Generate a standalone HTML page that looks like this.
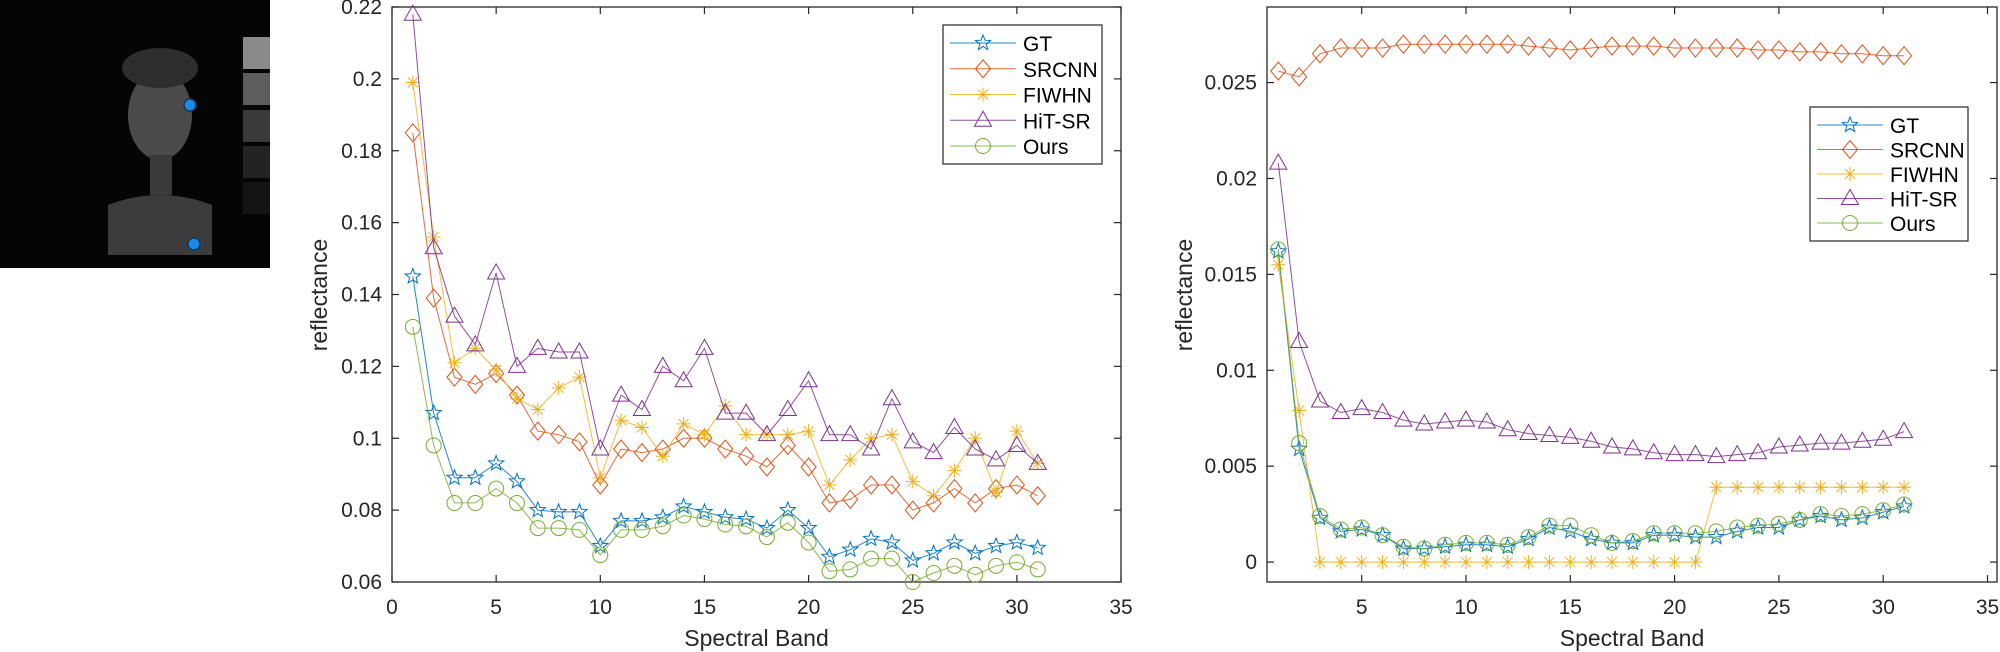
<!DOCTYPE html>
<html><head><meta charset="utf-8"><style>
html,body{margin:0;padding:0;background:#fff;}
svg{display:block;font-family:"Liberation Sans",Arial,sans-serif;}
</style></head><body>
<svg id="fig" width="2000" height="652" viewBox="0 0 2000 652" xmlns="http://www.w3.org/2000/svg">
  <g>
    <rect x="0" y="0" width="270" height="268" fill="#050505"/>
    <rect x="243" y="37" width="27" height="32" fill="#8a8a8a"/>
    <rect x="243" y="73" width="27" height="32" fill="#5e5e5e"/>
    <rect x="243" y="110" width="27" height="32" fill="#3a3a3a"/>
    <rect x="243" y="146" width="27" height="32" fill="#232323"/>
    <rect x="243" y="182" width="27" height="32" fill="#141414"/>
    <ellipse cx="160" cy="115" rx="32" ry="45" fill="#4a4a4a"/>
    <ellipse cx="160" cy="68" rx="38" ry="20" fill="#2e2e2e"/>
    <rect x="150" y="155" width="22" height="40" fill="#3a3a3a"/>
    <path d="M108 255 L108 205 Q160 185 212 205 L212 255 Z" fill="#3c3c3c"/>
    <circle cx="190" cy="105" r="6" fill="#1e88e5" stroke="#0a3a66" stroke-width="1.5"/>
    <circle cx="194" cy="244" r="6" fill="#1e88e5" stroke="#0a3a66" stroke-width="1.5"/>
  </g>
</svg>
<script>
const bands = [1,2,3,4,5,6,7,8,9,10,11,12,13,14,15,16,17,18,19,20,21,22,23,24,25,26,27,28,29,30,31];
const seriesNames = ["GT","SRCNN","FIWHN","HiT-SR","Ours"];
// chart 1 values
const c1GT = [0.145,0.107,0.089,0.089,0.093,0.088,0.080,0.0795,0.0795,0.070,0.077,0.077,0.078,0.081,0.0795,0.078,0.0775,0.075,0.080,0.075,0.067,0.069,0.072,0.071,0.066,0.068,0.071,0.068,0.070,0.071,0.0695];
const c1SRCNN = [0.185,0.139,0.117,0.115,0.118,0.112,0.102,0.101,0.099,0.087,0.097,0.096,0.097,0.100,0.100,0.097,0.095,0.092,0.098,0.092,0.082,0.083,0.087,0.087,0.080,0.082,0.086,0.082,0.086,0.087,0.084];
const c1FIWHN = [0.199,0.156,0.121,0.125,0.119,0.111,0.108,0.114,0.117,0.089,0.105,0.103,0.095,0.104,0.101,0.109,0.101,0.101,0.101,0.102,0.087,0.094,0.100,0.101,0.088,0.084,0.091,0.100,0.085,0.102,0.093];
const c1HiT = [0.218,0.153,0.134,0.126,0.146,0.120,0.125,0.124,0.124,0.097,0.112,0.108,0.120,0.116,0.125,0.107,0.107,0.101,0.108,0.116,0.101,0.101,0.097,0.111,0.099,0.096,0.103,0.097,0.094,0.098,0.093];
const c1Ours = [0.131,0.098,0.082,0.082,0.086,0.082,0.075,0.075,0.0745,0.0675,0.0745,0.0745,0.0755,0.0785,0.0775,0.076,0.0755,0.0725,0.0765,0.071,0.063,0.0635,0.0665,0.0665,0.060,0.0625,0.0645,0.062,0.0645,0.0655,0.0635];
const c1YTicks = [0.06,0.08,0.1,0.12,0.14,0.16,0.18,0.2,0.22];
const c1YTickLabels = ["0.06","0.08","0.1","0.12","0.14","0.16","0.18","0.2","0.22"];
// chart 2 values
const c2GT = [0.0162,0.0059,0.0023,0.0016,0.0017,0.0014,0.0007,0.0007,0.0008,0.0009,0.0009,0.0008,0.0012,0.0018,0.0016,0.0012,0.0010,0.0010,0.0014,0.0014,0.0013,0.0013,0.0016,0.0018,0.0018,0.0022,0.0024,0.0022,0.0023,0.0026,0.0029];
const c2SRCNN = [0.0256,0.0253,0.0265,0.0268,0.0268,0.0268,0.0270,0.0270,0.0270,0.0270,0.0270,0.0270,0.0269,0.0268,0.0267,0.0268,0.0269,0.0269,0.0269,0.0268,0.0268,0.0268,0.0268,0.0267,0.0267,0.0266,0.0266,0.0265,0.0265,0.0264,0.0264];
const c2FIWHN = [0.0155,0.0079,0,0,0,0,0,0,0,0,0,0,0,0,0,0,0,0,0,0,0,0.0039,0.0039,0.0039,0.0039,0.0039,0.0039,0.0039,0.0039,0.0039,0.0039];
const c2HiT = [0.0208,0.0115,0.0084,0.0078,0.0080,0.0078,0.0074,0.0072,0.0073,0.0074,0.0073,0.0069,0.0067,0.0066,0.0065,0.0063,0.0060,0.0059,0.0057,0.0056,0.0056,0.0055,0.0056,0.0057,0.0060,0.0061,0.0062,0.0062,0.0063,0.0064,0.0068];
const c2Ours = [0.0163,0.0062,0.0024,0.0017,0.0018,0.0014,0.0008,0.0007,0.0009,0.0010,0.0010,0.0009,0.0013,0.0019,0.0019,0.0014,0.0010,0.0011,0.0015,0.0015,0.0015,0.0016,0.0018,0.0019,0.0020,0.0022,0.0025,0.0024,0.0025,0.0027,0.0030];
const c2YTicks = [0,0.005,0.01,0.015,0.02,0.025];
const c2YTickLabels = ["0","0.005","0.01","0.015","0.02","0.025"];
const xTicks = [0,5,10,15,20,25,30,35];
const xTickLabels = ["0","5","10","15","20","25","30","35"];

const NS = "http://www.w3.org/2000/svg";
const svg = document.getElementById("fig");
const colors = ["#0072BD","#D95319","#EDB120","#7E2F8E","#77AC30"];
const markers = ["star","diamond","asterisk","triangle","circle"];

function mk(tag, attrs, parent){
  const e = document.createElementNS(NS, tag);
  for (const k in attrs) e.setAttribute(k, attrs[k]);
  (parent||svg).appendChild(e);
  return e;
}

function drawMarker(g, type, cx, cy, color){
  let e;
  if (type === "star"){
    let pts = [];
    for (let i=0;i<10;i++){
      const r = i%2===0 ? 8 : 3.4;
      const a = -Math.PI/2 + i*Math.PI/5;
      pts.push((cx+r*Math.cos(a)).toFixed(1)+","+(cy+r*Math.sin(a)).toFixed(1));
    }
    e = mk("polygon",{points:pts.join(" "),fill:"none",stroke:color,"stroke-width":1},g);
  } else if (type === "diamond"){
    e = mk("polygon",{points:`${cx},${cy-9} ${cx+7.5},${cy} ${cx},${cy+9} ${cx-7.5},${cy}`,fill:"none",stroke:color,"stroke-width":1},g);
  } else if (type === "triangle"){
    e = mk("polygon",{points:`${cx},${cy-9} ${cx+8.5},${cy+6} ${cx-8.5},${cy+6}`,fill:"none",stroke:color,"stroke-width":1},g);
  } else if (type === "circle"){
    e = mk("circle",{cx:cx,cy:cy,r:7.5,fill:"none",stroke:color,"stroke-width":1},g);
  } else {
    e = mk("path",{d:`M${cx-7} ${cy}H${cx+7}M${cx} ${cy-7}V${cy+7}M${cx-5} ${cy-5}L${cx+5} ${cy+5}M${cx-5} ${cy+5}L${cx+5} ${cy-5}`,stroke:color,"stroke-width":1,fill:"none"},g);
  }
  
  
}

function drawChart(id, box, xMap, yMin, yMax, yTicks, yTickLabels, series, legendBox){
  const g = mk("g",{});
  
  
  const X = v => xMap.x0 + xMap.s*v;
  const Y = v => box.y1 - (v - yMin)/(yMax - yMin)*(box.y1 - box.y0);
  // axes box
  const frame = mk("rect",{x:box.x0,y:box.y0,width:box.x1-box.x0,height:box.y1-box.y0,fill:"none",stroke:"#262626","stroke-width":1.3},g);
  
  
  // x ticks
  xTicks.forEach((t,i)=>{
    const x = X(t);
    if (x < box.x0-1 || x > box.x1+1) return;
    mk("line",{x1:x,y1:box.y1,x2:x,y2:box.y1-7,stroke:"#262626","stroke-width":1.2},g);
    mk("line",{x1:x,y1:box.y0,x2:x,y2:box.y0+7,stroke:"#262626","stroke-width":1.2},g);
    const tx = mk("text",{x:x,y:box.y1+32,"text-anchor":"middle","font-size":21,fill:"#262626"},g);
    tx.textContent = xTickLabels[i];
    
    
  });
  yTicks.forEach((t,i)=>{
    const y = Y(t);
    mk("line",{x1:box.x0,y1:y,x2:box.x0+7,y2:y,stroke:"#262626","stroke-width":1.2},g);
    mk("line",{x1:box.x1,y1:y,x2:box.x1-7,y2:y,stroke:"#262626","stroke-width":1.2},g);
    const ty = mk("text",{x:box.x0-10,y:y+7,"text-anchor":"end","font-size":21,fill:"#262626"},g);
    ty.textContent = yTickLabels[i];
    
    
  });
  const xt = mk("text",{x:(box.x0+box.x1)/2,y:box.y1+64,"text-anchor":"middle","font-size":23,fill:"#262626"},g);
  xt.textContent = "Spectral Band";
  
  
  const yx = box.ylabX, yy = 295;
  const yt = mk("text",{x:yx,y:yy,"text-anchor":"middle","font-size":23,fill:"#262626",transform:`rotate(-90 ${yx} ${yy})`},g);
  yt.textContent = "reflectance";
  
  
  // series
  series.forEach((vals,si)=>{
    const sg = mk("g",{},g);
    
    
    const pts = vals.map((v,i)=>X(bands[i]).toFixed(1)+","+Y(v).toFixed(1)).join(" ");
    const pl = mk("polyline",{points:pts,fill:"none",stroke:colors[si],"stroke-width":1,"stroke-opacity":0.85},sg);
    
    
    vals.forEach((v,i)=>drawMarker(sg, markers[si], X(bands[i]), Y(v), colors[si]));
  });
  // legend
  const lg = mk("g",{},g);
  
  
  const lb = legendBox;
  mk("rect",{x:lb.x,y:lb.y,width:lb.w,height:lb.h,fill:"#fff",stroke:"#262626","stroke-width":1.2},lg);
  seriesNames.forEach((n,i)=>{
    const ry = lb.y + 18 + i*(lb.h-36)/4;
    const le = mk("g",{},lg);
    
    
    mk("line",{x1:lb.x+7,y1:ry,x2:lb.x+73,y2:ry,stroke:colors[i],"stroke-width":1,"stroke-opacity":0.85},le);
    drawMarker(le, markers[i], lb.x+40, ry, colors[i]);
    const t = mk("text",{x:lb.x+80,y:ry+8,"font-size":21,fill:"#000"},le);
    t.textContent = n;
  });
}

drawChart("chart-left",{x0:392,x1:1121,y0:7,y1:582,ylabX:327},{x0:392,s:20.83},0.06,0.22,c1YTicks,c1YTickLabels,
  [c1GT,c1SRCNN,c1FIWHN,c1HiT,c1Ours],{x:943,y:25,w:159,h:139});
drawChart("chart-right",{x0:1267,x1:1997,y0:7,y1:582,ylabX:1192},{x0:1257.4,s:20.86},-0.00104,0.02894,c2YTicks,c2YTickLabels,
  [c2GT,c2SRCNN,c2FIWHN,c2HiT,c2Ours],{x:1810,y:107,w:158,h:134});
</script>
</body></html>
